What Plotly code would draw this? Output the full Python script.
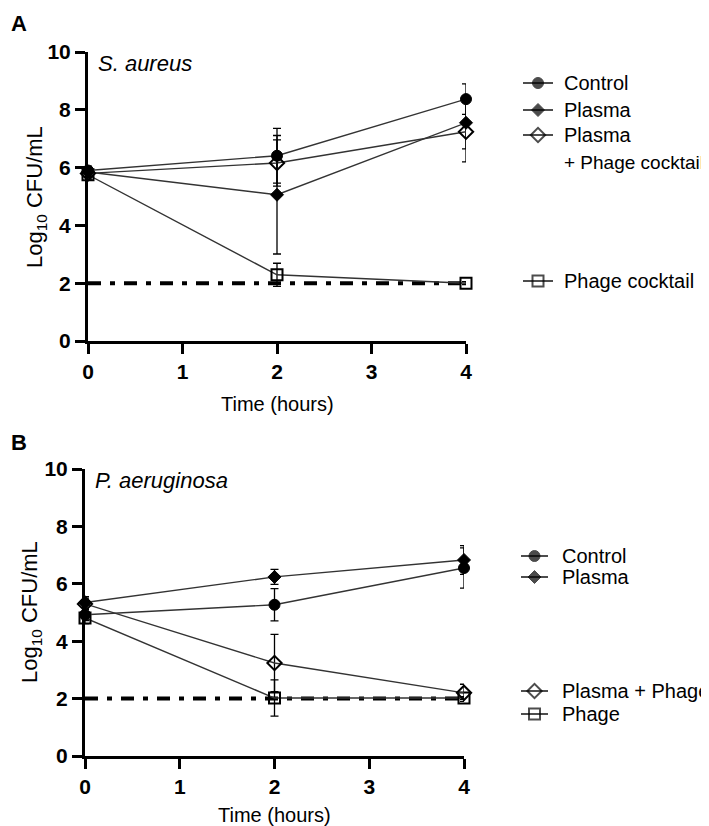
import plotly.graph_objects as go

# ---------------- data ----------------
times = [0, 2, 4]

# Panel A: S. aureus
sa_control = [5.90, 6.41, 8.37]
sa_control_sd = [0.15, 0.95, 0.53]
sa_plasma = [5.85, 5.06, 7.55]
sa_plasma_sd = [0.15, 2.05, 0.90]
sa_plasma_phage = [5.80, 6.16, 7.24]
sa_plasma_phage_sd = [0.15, 0.80, 1.04]
sa_phage = [5.75, 2.29, 2.00]
sa_phage_sd = [0.15, 0.40, 0.05]

# Panel B: P. aeruginosa
pa_control = [4.92, 5.27, 6.55]
pa_control_sd = [0.20, 0.56, 0.70]
pa_plasma = [5.35, 6.24, 6.83]
pa_plasma_sd = [0.20, 0.26, 0.50]
pa_plasma_phage = [5.30, 3.24, 2.20]
pa_plasma_phage_sd = [0.20, 1.00, 0.30]
pa_phage = [4.81, 2.02, 2.02]
pa_phage_sd = [0.20, 0.63, 0.05]

lod = 2.0                       # limit of detection
x_ticks = [0, 1, 2, 3, 4]
y_ticks = [0, 2, 4, 6, 8, 10]
sig_label = "****"
bracket_y = [7.1, 2.0]

legend_a = ["Control", "Plasma", "Plasma", "Phage cocktail"]
legend_b = ["Control", "Plasma", "Plasma + Phage", "Phage"]

# ---------------- styling ----------------
W, H = 709, 826
SANS = "Liberation Sans, Arial, sans-serif"
LINE_COL = "#333333"

styles = {
    "control": dict(symbol="circle", size=11, color="black", line=dict(color="black", width=1)),
    "plasma": dict(symbol="diamond", size=10, color="black", line=dict(color="black", width=1)),
    "plasma_phage": dict(symbol="diamond-open", size=11, color="black", line=dict(color="black", width=2)),
    "phage": dict(symbol="square-open", size=11, color="black", line=dict(color="black", width=2)),
}

fig = go.Figure()


def px_x(p):
    return p / W


def px_y(p):
    return 1 - p / H


def add_panel(xa, ya, series):
    # limit-of-detection line
    fig.add_trace(go.Scatter(
        x=[x_ticks[0], x_ticks[-1]], y=[lod, lod], mode="lines",
        line=dict(color="black", width=4, dash="13px,9px,5px,9px"),
        xaxis=xa, yaxis=ya, showlegend=False, hoverinfo="skip"))
    for vals, sd, key in series:
        fig.add_trace(go.Scatter(
            x=times, y=vals, mode="lines+markers",
            line=dict(color=LINE_COL, width=1.4),
            marker=styles[key],
            error_y=dict(type="data", array=sd, visible=True, color="black",
                         thickness=1.3, width=4),
            cliponaxis=False, xaxis=xa, yaxis=ya, showlegend=False))


add_panel("x", "y", [
    (sa_phage, sa_phage_sd, "phage"),
    (sa_plasma, sa_plasma_sd, "plasma"),
    (sa_plasma_phage, sa_plasma_phage_sd, "plasma_phage"),
    (sa_control, sa_control_sd, "control"),
])
add_panel("x2", "y2", [
    (pa_phage, pa_phage_sd, "phage"),
    (pa_plasma_phage, pa_plasma_phage_sd, "plasma_phage"),
    (pa_control, pa_control_sd, "control"),
    (pa_plasma, pa_plasma_sd, "plasma"),
])

# ---------------- manual legends (pixel overlay axis) ----------------
leg_keys = ["control", "plasma", "plasma_phage", "phage"]
leg_a_y = [75, 102, 127, 273]
leg_b_y = [548, 569, 683, 706]
LEG_FONT = dict(family=SANS, size=20, color="black")


def add_legend(x0, x1, text_x, ys, labels):
    xm = (x0 + x1) / 2
    for key, yy, lab in zip(leg_keys, ys, labels):
        st = styles[key]
        fig.add_trace(go.Scatter(
            x=[x0, xm, x1], y=[yy, yy, yy], mode="lines+markers",
            line=dict(color="black", width=1.4),
            marker=dict(symbol=st["symbol"], size=[0, st["size"], 0], color="black",
                        line=st["line"]),
            xaxis="x3", yaxis="y3", showlegend=False, hoverinfo="skip", cliponaxis=False))
        fig.add_annotation(x=px_x(text_x), y=px_y(yy), xref="paper", yref="paper", text=lab,
                           showarrow=False, xanchor="left", yanchor="middle",
                           font=LEG_FONT)


add_legend(515, 545, 554, leg_a_y, legend_a)
fig.add_annotation(x=px_x(554), y=px_y(155), xref="paper", yref="paper", text="+ Phage cocktail",
                   showarrow=False, xanchor="left", yanchor="middle",
                   font=dict(family=SANS, size=19, color="black"))
add_legend(513, 540, 552, leg_b_y, legend_b)

# ---------------- significance bracket ----------------
bx = 4.2
for (x0, y0, x1, y1) in [(bx, bracket_y[0], bx, bracket_y[1]),
                         (bx - 0.06, bracket_y[0], bx, bracket_y[0]),
                         (bx - 0.06, bracket_y[1], bx, bracket_y[1])]:
    fig.add_shape(type="line", x0=x0, y0=y0, x1=x1, y1=y1, xref="x", yref="y",
                  line=dict(color="#333333", width=1))
fig.add_annotation(x=4.41, y=4.7, xref="x", yref="y", text=sig_label, showarrow=False,
                   font=dict(family=SANS, size=14, color="black"))

# ---------------- text ----------------
fig.add_annotation(x=0.085, y=9.6, xref="x", yref="y", text="<i>S. aureus</i>",
                   showarrow=False, xanchor="left", yanchor="middle",
                   font=dict(family=SANS, size=22, color="black"))
fig.add_annotation(x=0.085, y=9.6, xref="x2", yref="y2", text="<i>P. aeruginosa</i>",
                   showarrow=False, xanchor="left", yanchor="middle",
                   font=dict(family=SANS, size=22, color="black"))

for lab, yy in [("A", 16), ("B", 434)]:
    fig.add_annotation(x=px_x(1), y=px_y(yy), xref="paper", yref="paper", text="<b>%s</b>" % lab,
                       showarrow=False, xanchor="left", yanchor="middle",
                       font=dict(family=SANS, size=22, color="black"))

for xx, yy in [(28, 189), (23, 604)]:
    fig.add_annotation(x=px_x(xx), y=px_y(yy), xref="paper", yref="paper",
                       text="Log<sub>10</sub> CFU/mL", textangle=-90, showarrow=False,
                       xanchor="center", yanchor="middle",
                       font=dict(family=SANS, size=22, color="black"))

for xx, yy in [(269, 396), (266, 807)]:
    fig.add_annotation(x=px_x(xx), y=px_y(yy), xref="paper", yref="paper", text="Time (hours)",
                       showarrow=False, xanchor="center", yanchor="middle",
                       font=dict(family=SANS, size=20, color="black"))

# ---------------- axes ----------------
tickfont = dict(family=SANS, size=21, color="black", weight="bold")
xcommon = dict(range=[x_ticks[0], x_ticks[-1]], tickvals=x_ticks, showgrid=False,
               zeroline=False, showline=True, linecolor="black", linewidth=3,
               ticks="outside", ticklen=10, tickwidth=3, tickcolor="black",
               tickfont=tickfont, automargin=False, fixedrange=True)
ycommon = dict(range=[y_ticks[0], y_ticks[-1]], tickvals=y_ticks, showgrid=False,
               zeroline=False, showline=True, linecolor="black", linewidth=3,
               ticks="outside", ticklen=10, tickwidth=3, tickcolor="black",
               tickfont=tickfont, automargin=False, fixedrange=True)

fig.update_layout(
    width=W, height=H, margin=dict(l=0, r=0, t=0, b=0),
    paper_bgcolor="white", plot_bgcolor="rgba(0,0,0,0)", showlegend=False,
    xaxis=dict(domain=[80 / W, 458 / W], anchor="y", **xcommon),
    yaxis=dict(domain=[1 - 333 / H, 1 - 44 / H], anchor="x", **ycommon),
    xaxis2=dict(domain=[77 / W, 456 / W], anchor="y2", **xcommon),
    yaxis2=dict(domain=[1 - 748 / H, 1 - 461 / H], anchor="x2", **ycommon),
    xaxis3=dict(domain=[0, 1], range=[0, W], visible=False, anchor="y3", fixedrange=True),
    yaxis3=dict(domain=[0, 1], range=[H, 0], visible=False, anchor="x3", fixedrange=True),
)

fig.write_html("out.html")
